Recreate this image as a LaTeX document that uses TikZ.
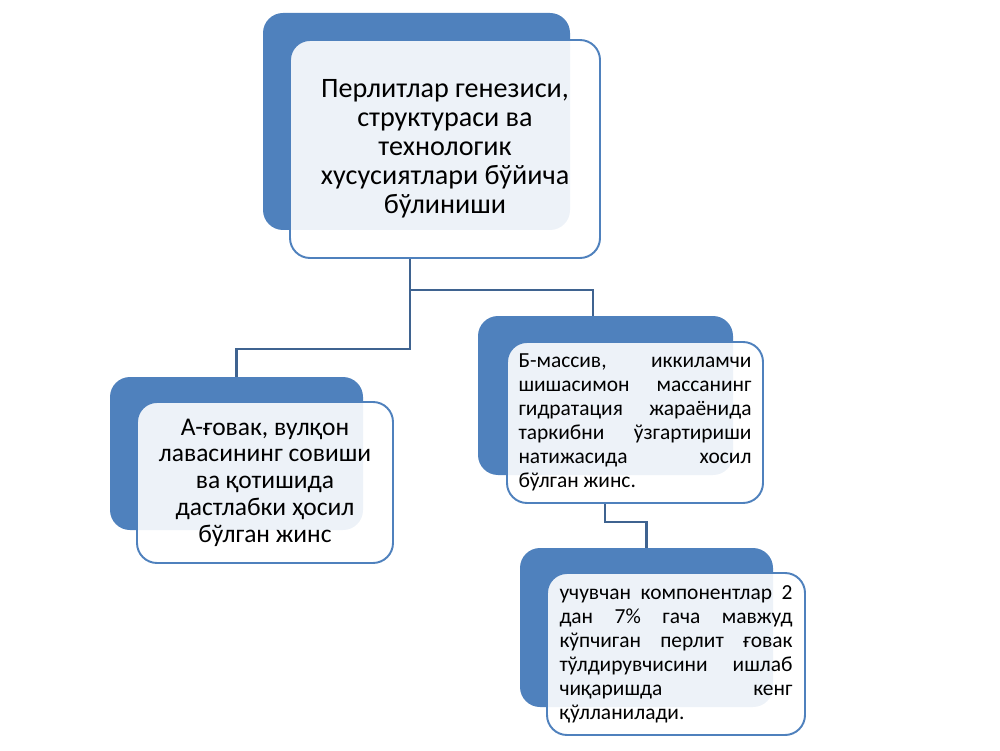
\documentclass[tikz,border=0pt]{standalone}
\usepackage{fontspec}
\setmainfont{Carlito}
\usepackage{tikz}
\definecolor{smartblue}{HTML}{4F81BD}
\definecolor{linkblue}{HTML}{3F6390}

\begin{document}
\begin{tikzpicture}[
	backbox/.style={draw=none, fill=smartblue, rounded corners=0.4cm, inner sep=0pt},
	frontbox/.style={draw=smartblue, line width=1.1pt, fill=white, fill opacity=0.9, text opacity=1, rounded corners=0.4cm, inner sep=0pt},
	bigtext/.style={align=center, font=\fontsize{16}{16.5}\selectfont},
	smalltext/.style={text width=4.66cm, align=justify, font=\fontsize{12.2}{13.7}\selectfont},
	link/.style={draw=linkblue, line width=1.3pt}]
			\useasboundingbox (0,0) rectangle (20,15);
			\node[backbox, minimum width=6.14cm, minimum height=4.34cm] (topB) at (8.33,12.57) {};
			\node[backbox, minimum width=5.06cm, minimum height=3.06cm] (leftB) at (4.73,5.93) {};
			\node[backbox, minimum width=5.1cm, minimum height=3.18cm] (rightB) at (12.11,7.09) {};
			\node[backbox, minimum width=5.06cm, minimum height=3.18cm] (bottomB) at (12.93,2.45) {};
			\node[frontbox, bigtext, minimum width=6.2cm, minimum height=4.36cm] (topF) at (8.9,12.02)
				{Перлитлар генезиси,\\ структураси ва\\ технологик\\ хусусиятлари бўйича\\ бўлиниши};
			\node[frontbox, bigtext, font=\fontsize{14.5}{15.2}\selectfont, minimum width=5.12cm, minimum height=3.22cm] (leftF) at (5.3,5.35)
				{А-ғовак, вулқон\\ лавасининг совиши\\ ва қотишида\\ дастлабки ҳосил\\ бўлган жинс};
			\node[frontbox, smalltext, minimum width=5.12cm, minimum height=3.22cm] (rightF) at (12.7,6.55)
				{Б-массив, иккиламчи\linebreak шишасимон массанинг\linebreak гидратация жараёнида\linebreak таркибни ўзгартириши\linebreak натижасида хосил\linebreak бўлган жинс.};
			\node[frontbox, smalltext, minimum width=5.16cm, minimum height=3.24cm] (bottomF) at (13.52,1.92)
				{учувчан компонентлар 2\linebreak дан 7\% гача мавжуд\linebreak кўпчиган перлит ғовак\linebreak тўлдирувчисини ишлаб\linebreak чиқаришда кенг\linebreak қўлланилади.};
			\coordinate (j1) at (8.2,9.2);
			\coordinate (j2) at (8.2,8.02);
			\coordinate (j3) at (12.1,4.56);
			\draw[link] (j1 |- topF.south) -- (j1) -| ([xshift=-0.25cm]rightB.north);
			\draw[link] (j1) -- (j2) -| (leftB.north);
			\draw[link] (j3 |- rightF.south) -- (j3) -| (bottomB.north);
		\end{tikzpicture}
\end{document}
